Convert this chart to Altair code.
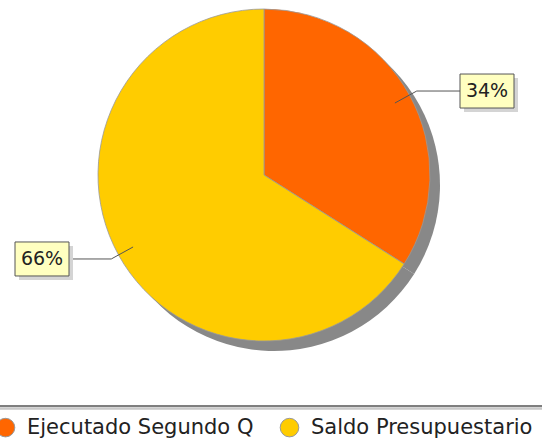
import math
import altair as alt
import pandas as pd

# ---- data ----
categories = ["Ejecutado Segundo Q", "Saldo Presupuestario"]
values = [34, 66]
labels = ["34%", "66%"]
colors = ["#FF6600", "#FFCC00"]

# ---- layout constants ----
W, H = 542, 447
CX, CY, R = 264, 175, 166
SHADOW = 10
BOX_W, BOX_H = 54, 34
LEFT_MARGIN, RIGHT_MARGIN = 15, 28

df_pie = pd.DataFrame({"cat": categories, "val": values, "ord": list(range(len(values)))})

# label geometry derived from the slice angles
total = sum(values)
rows = []
cum = 0
for cat, v, lab in zip(categories, values, labels):
    mid = (cum + v / 2) / total * 2 * math.pi
    cum += v
    dx, dy = math.sin(mid), -math.cos(mid)
    x0, y0 = CX + dx * R * 0.9, CY + dy * R * 0.9
    x1, y1 = CX + dx * R * 1.05, CY + dy * R * 1.05
    right = dx >= 0
    bx0 = W - RIGHT_MARGIN - BOX_W if right else LEFT_MARGIN
    bx1 = bx0 + BOX_W
    x2 = bx0 if right else bx1
    rows.append(dict(label=lab, x0=x0, y0=y0, x1=x1, y1=y1, x2=x2,
                     bx0=bx0, bx1=bx1, by0=y1 - BOX_H / 2, by1=y1 + BOX_H / 2,
                     sx0=bx0 + 4, sx1=bx1 + 4, sy0=y1 - BOX_H / 2 + 4, sy1=y1 + BOX_H / 2 + 4,
                     tx=(bx0 + bx1) / 2, ty=y1))
df_lab = pd.DataFrame(rows)

shadow = alt.Chart(df_pie).mark_arc(radius=R, fill="#888888", strokeWidth=0).encode(
    theta=alt.Theta("val:Q", stack=True),
    order=alt.Order("ord:Q"),
    x=alt.value(CX + SHADOW), y=alt.value(CY + SHADOW),
)

pie = alt.Chart(df_pie).mark_arc(radius=R, stroke="#999999", strokeWidth=0.8).encode(
    theta=alt.Theta("val:Q", stack=True),
    order=alt.Order("ord:Q"),
    color=alt.Color(
        "cat:N",
        scale=alt.Scale(domain=categories, range=colors),
        legend=alt.Legend(
            title=None, orient="none", legendX=-5, legendY=417, direction="horizontal",
            labelFont="DejaVu Sans", labelFontSize=21, labelColor="#222222", labelLimit=0,
            symbolType="circle", symbolSize=346, symbolStrokeColor="#999999",
            symbolStrokeWidth=1, labelOffset=11, columnPadding=24, padding=0,
        ),
    ),
    x=alt.value(CX), y=alt.value(CY),
)

seg1 = alt.Chart(df_lab).mark_rule(color="#555555", strokeWidth=1).encode(
    x=alt.X("x0:Q", scale=None, axis=None), y=alt.Y("y0:Q", scale=None, axis=None),
    x2="x1:Q", y2="y1:Q",
)
seg2 = alt.Chart(df_lab).mark_rule(color="#555555", strokeWidth=1).encode(
    x=alt.X("x1:Q", scale=None, axis=None), y=alt.Y("y1:Q", scale=None, axis=None),
    x2="x2:Q", y2="y1:Q",
)
box_shadow = alt.Chart(df_lab).mark_rect(fill="#d4d4d4").encode(
    x=alt.X("sx0:Q", scale=None, axis=None), x2="sx1:Q",
    y=alt.Y("sy0:Q", scale=None, axis=None), y2="sy1:Q",
)
box = alt.Chart(df_lab).mark_rect(fill="#FFFFC0", stroke="#555555", strokeWidth=1).encode(
    x=alt.X("bx0:Q", scale=None, axis=None), x2="bx1:Q",
    y=alt.Y("by0:Q", scale=None, axis=None), y2="by1:Q",
)
text = alt.Chart(df_lab).mark_text(font="DejaVu Sans", fontSize=19, color="#222222",
                                   align="center", baseline="middle").encode(
    x=alt.X("tx:Q", scale=None, axis=None), y=alt.Y("ty:Q", scale=None, axis=None),
    text="label:N",
)

border1 = alt.Chart(df_pie).mark_rule(color="#555555", strokeWidth=1).encode(
    x=alt.value(0), x2=alt.value(W), y=alt.value(406))
border2 = alt.Chart(df_pie).mark_rule(color="#c8c8c8", strokeWidth=2).encode(
    x=alt.value(0), x2=alt.value(W), y=alt.value(408.5))

chart = alt.layer(
    shadow, pie, seg1, seg2, box_shadow, box, text, border1, border2
).resolve_scale(x="independent", y="independent").properties(
    width=W, height=H, padding=0, autosize=alt.AutoSizeParams(type="none"),
    background="white",
).configure_view(stroke=None)

chart.save("out.html", embed_options={"renderer": "svg", "actions": False})
